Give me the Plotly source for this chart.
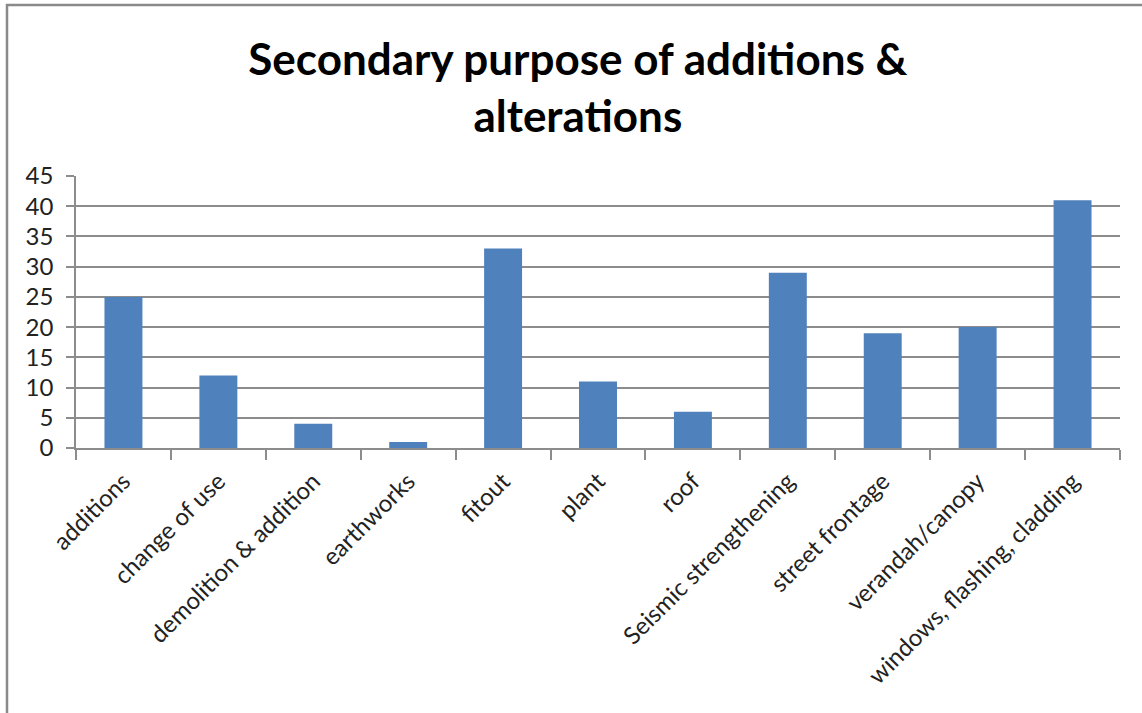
import plotly.graph_objects as go

categories = [
    "additions", "change of use", "demolition & addition", "earthworks",
    "fitout", "plant", "roof", "Seismic strengthening", "street frontage",
    "verandah/canopy", "windows, flashing, cladding",
]
counts = [25, 12, 4, 1, 33, 11, 6, 29, 19, 20, 41]
y_ticks = [0, 5, 10, 15, 20, 25, 30, 35, 40, 45]

FONT = "Lato"
GRID = "#8c8c8c"
BAR = "#4f81bd"

fig = go.Figure(
    go.Bar(x=categories, y=counts, marker=dict(color=BAR, line=dict(width=0)))
)

# Outer chart frame (only the left and top edges fall inside the page)
PLOT_L, PLOT_R, PLOT_T, PLOT_B = 76, 1120, 176, 448
w = PLOT_R - PLOT_L
h = PLOT_B - PLOT_T
fig.add_shape(
    type="rect", xref="paper", yref="paper",
    x0=(7 - PLOT_L) / w, x1=(1160 - PLOT_L) / w,
    y0=(PLOT_B - 730) / h, y1=(PLOT_B - 5) / h,
    line=dict(color="#8a8a8a", width=2.5), fillcolor="rgba(0,0,0,0)",
    layer="below",
)

fig.update_layout(
    width=1142, height=713,
    margin=dict(l=PLOT_L, r=1142 - PLOT_R, t=PLOT_T, b=713 - PLOT_B),
    paper_bgcolor="white", plot_bgcolor="white",
    showlegend=False,
    bargap=0.6,
    title=dict(
        text="<b>Secondary purpose of additions &<br>alterations</b>",
        x=0.506, xanchor="center", y=0.895, yanchor="top",
        font=dict(family=FONT, size=44, color="black"),
    ),
    font=dict(family=FONT, color="#222222"),
)

fig.update_xaxes(
    type="category",
    tickangle=-45,
    tickson="boundaries",
    ticks="outside", ticklen=10, tickcolor=GRID, tickwidth=1.5,
    showline=True, linecolor=GRID, linewidth=1.5,
    showgrid=False,
    ticklabelstandoff=8,
    tickfont=dict(family=FONT, size=24, color="#222222"),
)
fig.update_yaxes(
    range=[0, 45],
    tickvals=y_ticks,
    ticks="outside", ticklen=8, tickcolor=GRID, tickwidth=1.5,
    showline=True, linecolor=GRID, linewidth=1.5,
    showgrid=True, gridcolor=GRID, gridwidth=1.5,
    zeroline=False,
    ticklabelstandoff=8,
    tickfont=dict(family=FONT, size=24, color="#222222"),
)

fig.write_html("out.html")
